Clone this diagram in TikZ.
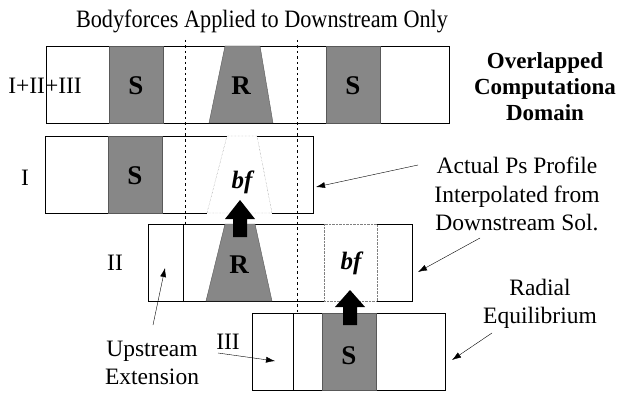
\documentclass[tikz,border=0pt]{standalone}
\usepackage{fontspec}
\setmainfont{Liberation Serif}
\usetikzlibrary{arrows.meta, calc}

\begin{document}
\begin{tikzpicture}[x=1pt, y=-1pt, font=\fontsize{23.5}{28.5}\selectfont,
  >={Latex[length=9pt, width=6pt]},
  zone/.style={draw, thin, minimum height=77pt, inner sep=0pt, anchor=north west},
  blade/.style={fill=black!47, draw=black!65, thin},
  bladetxt/.style={font=\fontsize{27}{27}\selectfont\bfseries},
  forcetxt/.style={font=\fontsize{25}{25}\selectfont\bfseries\itshape},
  ghost/.style={draw=gray, densely dotted, thin},
  cut/.style={dash pattern=on 2.5pt off 3pt, thin},
  note/.style={align=center},
  pointer/.style={->, thin}]
  \useasboundingbox (0,0) rectangle (618,393);

  % title
  \node[xscale=0.89] (title) at (262,21) {\fontsize{25}{25}\selectfont Bodyforces Applied to Downstream Only};

  % computational domains
  \node[zone, minimum width=403pt] (rowA) at (46,46) {};
  \node[zone, minimum width=268pt] (rowI) at (45,136) {};
  \node[zone, minimum width=264pt] (rowII) at (148,224) {};
  \node[zone, minimum width=193pt] (rowIII) at (252,313) {};

  % overlapped domain: stator, rotor, stator
  \filldraw[blade] (109,46) rectangle (163,123);
  \filldraw[blade] (225,46) -- (260,46) -- (273,123) -- (209,123) -- cycle;
  \filldraw[blade] (326,46) rectangle (380,123);
  \node[bladetxt] (sA) at (136,86) {S};
  \node[bladetxt] (rA) at (241,86) {R};
  \node[bladetxt] (sB) at (353,86) {S};

  % domain I
  \filldraw[blade] (108,136) rectangle (162,213);
  \fill[white] (227,135) rectangle (257,137);
  \fill[white] (207,212) rectangle (272,214);
  \draw[ghost] (227,136) -- (257,136) -- (272,213) -- (207,213) -- cycle;
  \node[bladetxt] (sI) at (135,176) {S};
  \node[forcetxt] (bfI) at (242,182) {bf};

  % domain II
  \draw (183,224) -- (183,301);
  \filldraw[blade] (225,224) -- (255,224) -- (272,301) -- (206,301) -- cycle;
  \fill[white] (324,223) rectangle (377,225);
  \fill[white] (324,300) rectangle (377,302);
  \draw[ghost] (324,224) rectangle (377,301);
  \node[bladetxt] (rII) at (239,265) {R};
  \node[forcetxt] (bfII) at (351,263) {bf};

  % domain III
  \draw (293,313) -- (293,390);
  \filldraw[blade] (322,313) rectangle (376,390);
  \node[bladetxt] (sIII) at (349,356) {S};

  % interface lines
  \draw[cut] (185,40) -- (185,224);
  \draw[cut] (297,40) -- (297,313);

  % body force transfer
  \fill (240,200) -- ++(15,19) -- ++(-8,0) -- ++(0,18) -- ++(-14,0) -- ++(0,-18) -- ++(-8,0) -- cycle;
  \fill (350,290) -- ++(15,17) -- ++(-8,0) -- ++(0,18) -- ++(-14,0) -- ++(0,-18) -- ++(-8,0) -- cycle;

  % domain labels
  \node (labA) at (45,86) {I+II+III};
  \node (labI) at (25,178) {I};
  \node (labII) at (115,263) {II};
  \node (labIII) at (228,342) {III};

  % notes
  \node[note, font=\fontsize{23}{26}\selectfont\bfseries] (overlap) at (545,87) {Overlapped\\Computationa\\Domain};
  \node[note] (ps) at (517,194) {Actual Ps Profile\\Interpolated from\\Downstream Sol.};
  \node[note] (radial) at (540,304) {Radial\\Equilibrium};
  \node[note] (upstream) at (152,363) {Upstream\\Extension};

  \coordinate (psA) at (418,165);
  \coordinate (psB) at (480,238);
  \coordinate (radA) at (492,333);
  \coordinate (upA) at (153,325);
  \coordinate (IIIa) at (218,353);
  \draw[pointer] (psA) -- (316,187);
  \draw[pointer] (psB) -- (418,272);
  \draw[pointer] (radA) -- (452,360);
  \draw[pointer] (upA) -- (165,268);
  \draw[pointer] (IIIa) -- (275,361);
\end{tikzpicture}
\end{document}
